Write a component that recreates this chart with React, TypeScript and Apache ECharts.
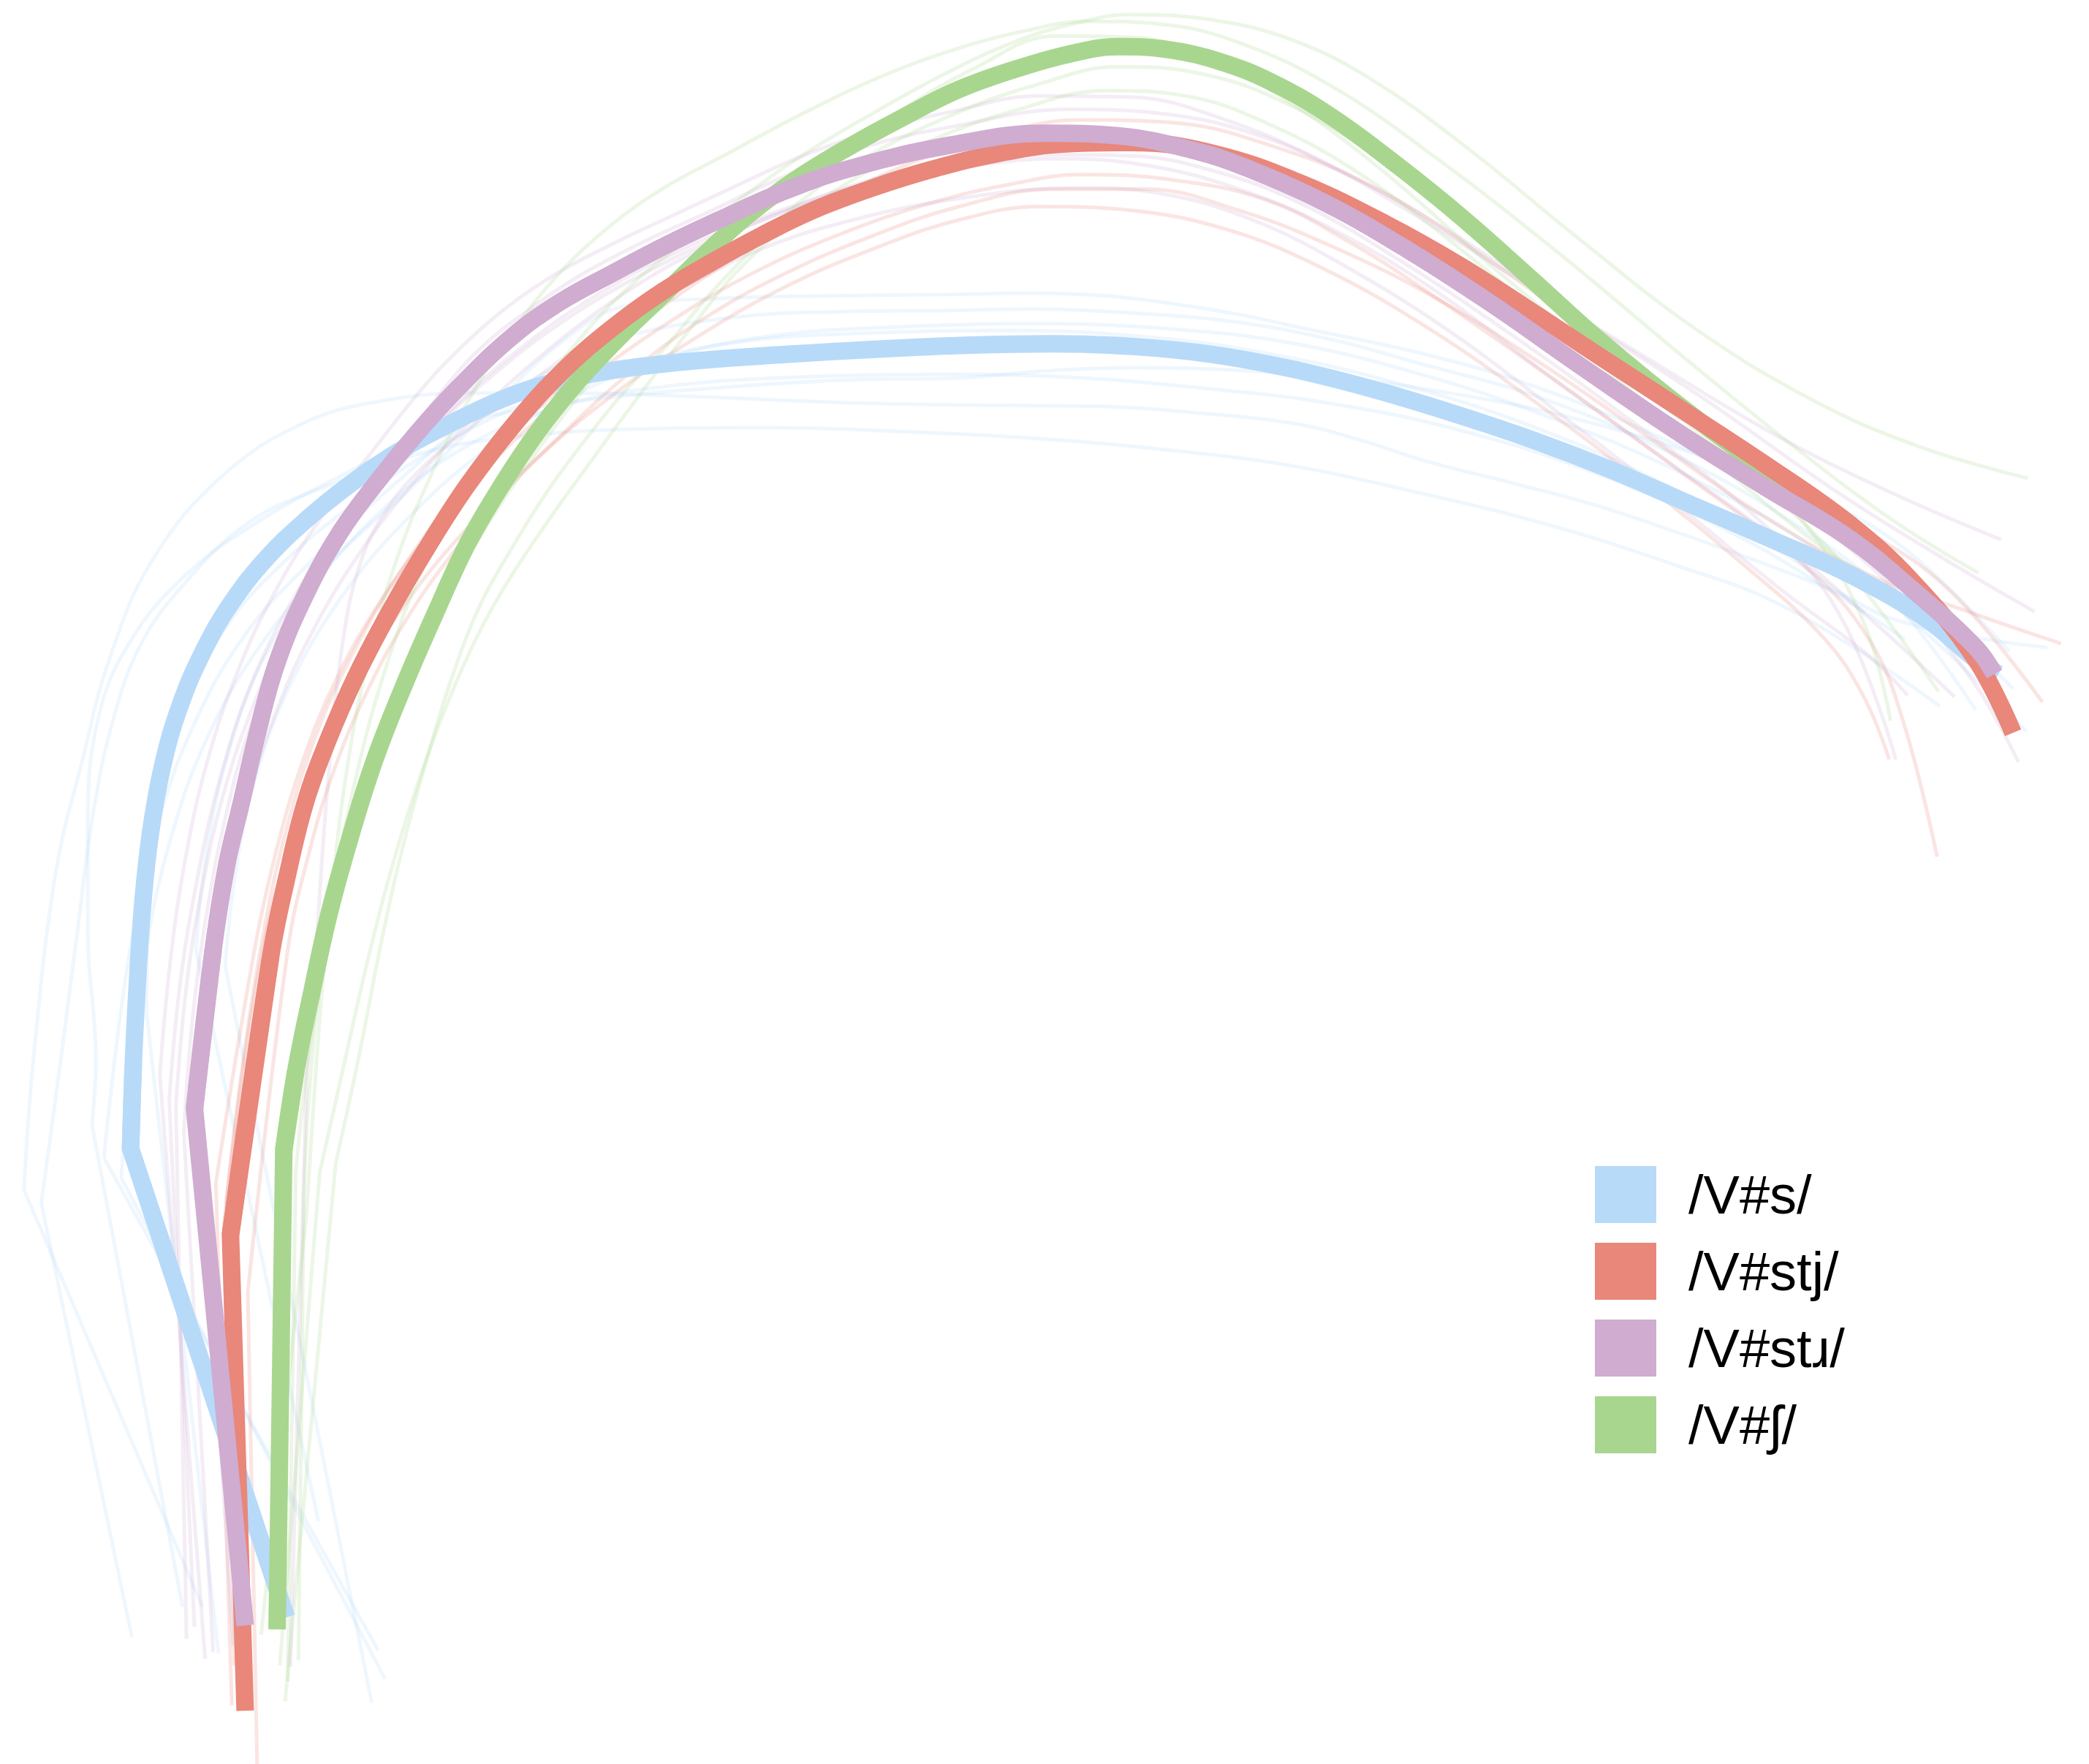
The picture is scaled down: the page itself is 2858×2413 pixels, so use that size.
import React, { useEffect, useRef } from "react";
import * as echarts from "echarts";

// Tongue contours: x = front/back position, y = height (arbitrary units, y grows downward on screen)
// Each contour starts at its root end; the first segment (root end -> kink) is straight, the rest is a smooth curve.
const categories = ["/V#s/", "/V#stj/", "/V#stɹ/", "/V#ʃ/"];
const colors = ["#B8DAF9", "#E8877A", "#CFACD0", "#A8D68F"];

// mean contours
const sMean = [[215,1214],[98,862],[100,800],[103,740],[107,680],[113,625],[122,575],[135,530],[153,488],[174,452],[200,419],[230,390],[262,364],[297,340],[334,320],[376,300],[411,288],[460,278],[520,271],[590,266],[660,262],[730,259],[790,258],[850,260],[910,266],[970,277],[1030,292],[1090,310],[1150,330],[1210,353],[1270,379],[1330,405],[1390,432],[1445,464],[1483,495],[1500,506]];
const stjMean = [[184,1284],[173,927],[203,719],[215,660],[229,603],[246,556],[267,508],[292,460],[320,412],[351,364],[388,316],[424,277],[461,245],[497,219],[534,197],[571,177],[610,158],[655,141],[700,127],[750,115],[800,108],[850,107],[910,115],[975,137],[1040,168],[1097,200],[1150,234],[1200,267],[1260,306],[1324,348],[1388,393],[1435,436],[1483,495],[1511,550]];
const strMean = [[184,1220],[146,832],[160,713],[170,650],[181,603],[194,547],[208,497],[229,447],[255,400],[282,363],[313,325],[345,290],[384,253],[420,227],[460,205],[500,184],[540,165],[585,145],[636,127],[713,109],[785,100],[840,102],[900,114],[933,125],[996,153],[1059,189],[1121,229],[1184,273],[1262,326],[1324,365],[1388,404],[1435,442],[1483,486],[1497,506]];
const shMean = [[208,1223],[213,863],[222,804],[234,745],[247,686],[263,628],[281,571],[303,515],[326,462],[351,408],[378,362],[405,322],[434,286],[466,252],[497,222],[530,190],[562,161],[597,135],[636,111],[678,88],[720,67],[765,51],[805,40],[840,35],[875,37],[915,46],[955,62],[1000,88],[1050,125],[1097,163],[1150,210],[1200,255],[1260,304],[1324,352],[1388,398],[1410,414]];

// individual tokens
const sTokens = [
  [[152,1206],[18,893],[25,796],[42,654],[62,570],[82,495],[114,421],[166,358],[229,317],[292,300],[356,295],[433,295],[530,298],[629,302],[725,304],[825,305],[900,310],[972,318],[1020,330],[1070,346],[1133,362],[1197,379],[1260,400],[1324,423],[1380,445],[1419,464],[1480,478],[1537,486]],
  [[99,1229],[31,903],[45,800],[58,700],[70,610],[85,540],[105,485],[135,442],[187,392],[250,363],[313,341],[376,329],[480,322],[580,321],[680,324],[776,329],[870,337],[972,350],[1070,371],[1133,386],[1197,404],[1260,425],[1324,448],[1390,485],[1456,530]],
  [[137,1206],[69,844],[72,796],[66,700],[66,616],[74,538],[98,481],[140,431],[193,392],[262,354],[330,322],[384,309],[460,298],[552,290],[640,285],[713,284],[790,278],[849,276],[910,277],[972,281],[1070,292],[1197,318],[1324,360],[1419,404],[1508,489]],
  [[284,1239],[78,869],[88,780],[100,700],[118,620],[145,545],[185,475],[240,415],[300,360],[360,310],[420,274],[468,253],[552,238],[629,234],[713,233],[776,232],[850,235],[923,241],[1000,255],[1070,274],[1152,297],[1250,338],[1350,395],[1420,450],[1483,533]],
  [[289,1260],[91,884],[98,800],[110,710],[128,630],[155,555],[195,485],[250,420],[310,365],[370,305],[420,258],[468,230],[540,224],[629,222],[713,221],[776,220],[830,222],[874,227],[930,236],[972,245],[1070,266],[1152,290],[1250,330],[1350,380],[1430,440],[1511,517]],
  [[279,1278],[169,725],[176,660],[190,590],[215,520],[255,450],[310,385],[375,330],[440,292],[510,266],[580,252],[660,246],[776,243],[880,247],[972,258],[1070,282],[1160,312],[1260,354],[1360,410],[1440,470],[1521,549]],
  [[239,1142],[147,713],[155,640],[170,570],[195,500],[235,440],[290,380],[350,335],[420,305],[500,290],[600,283],[700,281],[800,283],[900,291],[1000,303],[1100,324],[1200,356],[1300,400],[1380,447],[1430,480]],
  [[164,1241],[110,760],[112,680],[122,600],[140,530],[170,470],[215,420],[270,375],[330,335],[400,300],[480,272],[560,256],[650,250],[750,248],[850,252],[950,265],[1050,288],[1150,320],[1250,364],[1340,416],[1400,460]],
];
const stjTokens = [
  [[193,1324],[186,970],[216,713],[232,640],[250,580],[275,520],[305,465],[340,415],[380,368],[425,323],[475,278],[530,238],[590,205],[655,177],[720,155],[790,142],[860,142],[930,158],[1000,185],[1080,225],[1160,275],[1240,330],[1320,385],[1400,430],[1480,460],[1547,483]],
  [[174,1280],[162,888],[191,713],[207,640],[226,575],[250,515],[280,460],[315,410],[355,362],[400,318],[450,278],[505,240],[565,205],[630,176],[700,152],[760,138],[811,131],[880,135],[950,150],[1010,180],[1070,218],[1165,284],[1260,353],[1356,426],[1403,480],[1429,543],[1454,643]],
  [[185,1270],[170,900],[182,800],[196,710],[213,630],[236,555],[265,490],[300,430],[340,375],[388,322],[440,275],[500,228],[565,185],[635,145],[710,112],[770,95],[811,90],[880,92],[950,108],[1030,140],[1110,190],[1200,255],[1290,320],[1380,385],[1460,440],[1533,527]],
  [[176,1250],[168,920],[180,820],[194,730],[212,650],[238,575],[270,508],[308,448],[352,395],[402,345],[458,298],[520,255],[590,215],[660,185],[720,165],[780,155],[850,158],[920,172],[990,200],[1070,245],[1150,300],[1230,360],[1310,425],[1370,480],[1400,525],[1418,570]],
];
const strTokens = [
  [[154,1245],[120,807],[128,720],[140,640],[156,570],[178,505],[206,445],[240,390],[280,338],[320,288],[351,256],[384,228],[420,204],[460,183],[500,164],[545,143],[600,118],[660,97],[713,84],[780,72],[850,73],[920,90],[990,120],[1060,160],[1140,210],[1230,265],[1330,325],[1420,370],[1502,405]],
  [[146,1221],[127,826],[135,740],[148,660],[165,585],[188,515],[217,455],[252,400],[292,348],[330,296],[360,262],[395,234],[435,207],[480,183],[530,160],[590,132],[650,110],[715,95],[803,82],[870,85],[940,100],[1010,130],[1090,175],[1180,235],[1280,300],[1380,370],[1460,420],[1527,459]],
  [[218,1251],[230,810],[238,700],[246,589],[257,484],[271,421],[292,380],[320,348],[351,322],[384,298],[424,268],[460,245],[497,224],[535,204],[571,187],[625,169],[713,150],[811,141],[870,145],[940,165],[1010,200],[1090,250],[1170,310],[1260,380],[1340,445],[1400,490],[1432,522]],
  [[160,1240],[138,850],[145,760],[156,680],[170,610],[188,545],[212,485],[242,428],[278,376],[320,328],[367,284],[420,243],[480,207],[545,176],[615,150],[690,130],[740,123],[793,119],[860,124],[930,142],[1000,172],[1080,220],[1160,280],[1250,345],[1340,410],[1410,470],[1467,523]],
  [[140,1230],[132,830],[140,740],[152,665],[168,595],[190,530],[218,468],[252,410],[292,357],[338,308],[390,262],[447,222],[510,188],[580,160],[650,138],[720,123],[790,116],[850,117],[910,128],[975,152],[1050,195],[1140,255],[1230,320],[1320,390],[1380,460],[1423,570]],
  [[175,1235],[150,840],[158,750],[170,670],[186,600],[207,535],[234,475],[268,418],[308,365],[354,315],[405,268],[460,226],[520,190],[590,158],[660,133],[730,116],[790,107],[840,107],[900,116],[970,138],[1050,180],[1140,238],[1240,305],[1340,375],[1420,440],[1480,510],[1515,572]],
];
const shTokens = [
  [[196,1227],[230,912],[236,820],[242,740],[250,660],[260,580],[275,500],[296,425],[322,360],[352,300],[384,250],[420,205],[460,168],[500,140],[541,118],[605,84],[660,58],[720,36],[770,23],[816,16],[870,18],[930,32],[1000,65],[1080,120],[1170,190],[1260,265],[1340,330],[1420,390],[1485,430]],
  [[224,1246],[228,900],[232,820],[240,740],[252,660],[268,580],[290,500],[318,425],[351,365],[388,315],[424,268],[461,226],[505,188],[552,152],[600,118],[657,84],[710,55],[760,32],[805,18],[848,11],[910,15],[970,30],[1030,60],[1100,110],[1180,175],[1270,245],[1360,300],[1440,335],[1522,359]],
  [[214,1277],[252,873],[270,790],[285,713],[300,645],[318,578],[338,512],[360,455],[385,410],[410,370],[437,333],[466,297],[500,260],[530,224],[560,192],[600,152],[650,118],[720,84],[780,63],[839,50],[900,55],[960,75],[1030,115],[1110,175],[1200,250],[1290,325],[1360,400],[1400,470],[1419,541]],
  [[210,1250],[240,880],[258,800],[275,725],[293,655],[313,590],[335,530],[357,480],[379,440],[410,393],[443,347],[470,310],[497,274],[525,238],[552,205],[590,170],[640,135],[700,105],[765,82],[830,68],[890,72],[950,92],[1020,130],[1100,190],[1190,265],[1280,340],[1360,405],[1430,450],[1480,480]],
  [[216,1262],[222,880],[232,790],[248,700],[268,620],[292,545],[322,472],[356,410],[395,350],[440,290],[490,232],[545,180],[605,132],[665,90],[730,52],[793,27],[850,28],[910,45],[970,78],[1040,130],[1120,200],[1210,275],[1300,345],[1380,420],[1455,519]],
];

const means = [sMean, stjMean, strMean, shMean];
const tokens = [sTokens, stjTokens, strTokens, shTokens];
const drawOrder = [0, 3, 1, 2];

function contourSeries(pts: number[][], name: string, color: string, width: number, opacity: number, rootLen: number) {
  const common = {
    type: "line",
    symbol: "none",
    silent: true,
    color,
    itemStyle: { color },
    z: 2,
  };
  return [
    {
      ...common,
      name: name + " root",
      data: pts.slice(0, rootLen),
      smooth: false,
      lineStyle: { width, color, opacity, cap: "butt", join: "miter" },
    },
    {
      ...common,
      name,
      data: pts.slice(1),
      smooth: 0.4,
      lineStyle: { width, color, opacity, cap: "butt" },
    },
  ];
}

export default function App() {
  const ref = useRef<HTMLDivElement>(null);
  useEffect(() => {
    if (!ref.current) return;
    const chart = echarts.init(ref.current, undefined, { renderer: "svg" });
    const series: any[] = [];
    tokens.forEach((group, ci) => {
      group.forEach((tok, ti) => {
        series.push(...contourSeries(tok, categories[ci] + " token " + (ti + 1), colors[ci], 5, 0.22, 2));
      });
    });
    drawOrder.forEach((ci) => {
      series.push(...contourSeries(means[ci], categories[ci], colors[ci], 24, 1, 3));
    });
    chart.setOption({
      animation: false,
      backgroundColor: "#ffffff",
      grid: { left: 0, right: 0, top: 0, bottom: 0, containLabel: false },
      xAxis: { type: "value", min: 0, max: 1568, show: false },
      yAxis: { type: "value", min: 0, max: 1324, inverse: true, show: false },
      legend: {
        data: categories,
        orient: "vertical",
        left: 2177,
        top: 1590,
        icon: "rect",
        itemWidth: 84,
        itemHeight: 78,
        itemGap: 27,
        selectedMode: false,
        textStyle: {
          fontFamily: "'Liberation Sans', 'DejaVu Sans', Arial, sans-serif",
          fontSize: 74,
          color: "#000000",
          lineHeight: 78,
          padding: [0, 0, 0, 39],
        },
      },
      series,
    });
    return () => chart.dispose();
  }, []);
  return (
    <div
      ref={ref}
      style={{ position: "fixed", left: 0, top: 0, width: 2858, height: 2413, background: "#fff" }}
    />
  );
}
